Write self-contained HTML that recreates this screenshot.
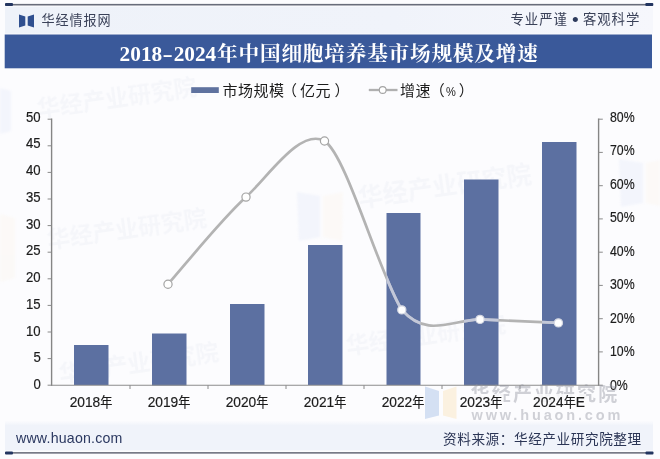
<!DOCTYPE html>
<html lang="zh-CN">
<head>
<meta charset="utf-8">
<title>2018-2024年中国细胞培养基市场规模及增速</title>
<style>
html,body{margin:0;padding:0;}
body{width:660px;height:459px;overflow:hidden;background:#fcfcfe;position:relative;font-family:"Liberation Sans","Noto Sans CJK SC",sans-serif;color:#222;}
.abs{position:absolute;white-space:nowrap;}
#brand{left:41.6px;top:10.9px;font-size:13.1px;line-height:20px;letter-spacing:0.9px;color:#3a4158;}
#slogan{left:510.5px;top:9.8px;font-size:13.4px;line-height:20px;letter-spacing:0.95px;color:#3a4158;}
.bl{display:inline-block;font-size:19px;line-height:0;width:5.7px;text-indent:-0.5px;position:relative;top:2.2px;letter-spacing:0;color:#2d3a5c;}
#title{left:119.6px;top:39.3px;text-align:left;font-family:"Liberation Serif","Noto Serif CJK SC",serif;font-weight:bold;font-size:20.6px;line-height:30px;color:#fff;letter-spacing:0.85px;}
#title .n{font-size:21.3px;letter-spacing:0;margin-right:0.8px;}
#title .hy{display:inline-block;transform:scaleX(1.45);margin:0 2.2px;}
.yl{-webkit-text-stroke:0.2px #1c1c1c;position:absolute;left:0;width:40.7px;text-align:right;font-size:15.2px;line-height:16px;color:#1c1c1c;transform:scaleX(0.865);transform-origin:right center;}
.yr{position:absolute;left:609.5px;margin-top:-0.5px;-webkit-text-stroke:0.2px #1c1c1c;font-size:15.2px;line-height:16px;color:#1c1c1c;transform:scaleX(0.81);transform-origin:left center;white-space:nowrap;}
.xl{-webkit-text-stroke:0.2px #1c1c1c;position:absolute;width:90px;text-align:center;font-size:15.2px;line-height:16px;top:394.3px;color:#1c1c1c;transform:scaleX(0.905);transform-origin:center center;white-space:nowrap;}
.xl .c{font-size:13.4px;}
.xl .bg{display:inline-block;line-height:15px;padding:0 1px;background:rgba(252,252,254,0.82);}
.p1{position:relative;left:-2.5px;}
.p2{position:relative;left:3.5px;}
.lg{font-size:15px;line-height:18px;letter-spacing:0.5px;color:#1c1c1c;top:81.5px;}
#site{left:16px;top:429.2px;font-size:14.5px;line-height:18px;letter-spacing:0.2px;color:#2b3860;transform:scaleX(0.978);transform-origin:left center;}
#src{left:443px;top:430.8px;font-size:13.6px;line-height:18px;letter-spacing:0.6px;color:#2b3555;}
.wm{position:absolute;white-space:nowrap;font-weight:bold;color:rgba(120,140,180,0.05);font-size:23px;transform:rotate(-8deg);filter:blur(0.6px);}
</style>
</head>
<body>
<svg class="abs" style="left:0;top:0;" width="660" height="459" viewBox="0 0 660 459">
  <defs><linearGradient id="hg" x1="0" y1="0" x2="1" y2="0"><stop offset="0" stop-color="#eef2f9"/><stop offset="0.6" stop-color="#f0f3fa"/><stop offset="1" stop-color="#f6f7fc"/></linearGradient><linearGradient id="fg" x1="0" y1="0" x2="0" y2="1"><stop offset="0" stop-color="#f0f3fa" stop-opacity="0"/><stop offset="0.17" stop-color="#f0f3fa" stop-opacity="1"/><stop offset="1" stop-color="#f0f3fa" stop-opacity="1"/></linearGradient></defs>
  <rect x="5" y="6.6" width="648" height="27" fill="url(#hg)"/>
  <rect x="5" y="3.9" width="648" height="1.6" fill="#686c7a"/>
  <rect x="5" y="3.1" width="8" height="2.9" rx="1" fill="#233560"/>
  <rect x="645.3" y="3.1" width="8" height="2.9" rx="1" fill="#233560"/>
  <rect x="4.7" y="34.5" width="647.3" height="33.8" fill="#3a599a"/>
  <rect x="5" y="420.5" width="648" height="30" fill="url(#fg)"/>
  <rect x="5" y="452" width="648" height="1.7" fill="#777a86"/>
  <rect x="5" y="451.5" width="8" height="3" rx="1" fill="#233560"/>
  <rect x="645.5" y="451.5" width="8" height="3" rx="1" fill="#233560"/>
</svg>
<svg class="abs" style="left:19px;top:14px;" width="15" height="14" viewBox="0 0 15 14"><path d="M0 0.5 L6.3 2.6 L6.3 11.4 L0 13.5 Z M15 0.5 L8.7 2.6 L8.7 11.4 L15 13.5 Z" fill="#2f4f8f"/></svg>
<div class="abs" id="brand">华经情报网</div>
<div class="abs" id="slogan">专业严谨 <span class="bl">•</span> 客观科学</div>
<div class="abs" id="title"><span class="n">2018<span class="hy">-</span>2024</span>年中国细胞培养基市场规模及增速</div>

<div class="wm" style="left:36px;top:79px;">华经产业研究院</div>
<div class="wm" style="left:46px;top:210px;">华经产业研究院</div>
<div class="wm" style="left:357px;top:166px;font-size:25px;">华经产业研究院</div>
<div class="wm" style="left:58px;top:344px;">华经产业研究院</div>
<div class="wm" style="left:345px;top:316px;">华经产业研究院</div>

<svg class="abs" style="left:0;top:0;filter:blur(1.2px);" width="660" height="459" viewBox="0 0 660 459">
  <g opacity="0.17">
    <path d="M297 192 L320 196 L320 237 L299 241 Z" fill="#c6d6f0"/>
    <path d="M343 192 L323 196 L323 237 L342 241 Z" fill="#fbeed6"/>
    <path d="M619 159 L643 163 L643 203 L621 207 Z" fill="#c6d6f0"/>
    <path d="M660 160 L646 163 L646 203 L660 206 Z" fill="#fbeed6"/>
    <path d="M0 88 L11 91 L11 131 L0 134 Z" fill="#c6d6f0"/>
    <path d="M0 214 L15 218 L15 278 L0 282 Z" fill="#fbeed6"/>
  </g>
</svg>
<svg class="abs" style="left:0;top:0;" width="660" height="459" viewBox="0 0 660 459">
  <g fill="#5c70a1">
    <rect x="74" y="345" width="34.5" height="40"/>
    <rect x="152" y="333.5" width="34.5" height="52"/>
    <rect x="230" y="304" width="34.5" height="81"/>
    <rect x="308" y="245" width="34.5" height="140"/>
    <rect x="386.5" y="213" width="34" height="172"/>
    <rect x="464" y="179.5" width="34.5" height="206"/>
    <rect x="542" y="142" width="34.5" height="243"/>
  </g>
  <g fill="none">
    <path stroke="#858585" stroke-width="1.4" d="M51.6 118.6 V385.7 M598.6 118.6 V385.7"/>
    <path stroke="#8c8c8c" stroke-width="1.1" d="M51 385.2 H599.2"/>
    <path stroke="#8a8a8a" stroke-width="1" d="M47.6 119.2 H51.6 M47.6 145.8 H51.6 M47.6 172.4 H51.6 M47.6 199.0 H51.6 M47.6 225.6 H51.6 M47.6 252.2 H51.6 M47.6 278.8 H51.6 M47.6 305.4 H51.6 M47.6 332.0 H51.6 M47.6 358.6 H51.6 M47.6 385.2 H51.6 M598.6 119.2 H602.8 M598.6 152.4 H602.8 M598.6 185.7 H602.8 M598.6 218.9 H602.8 M598.6 252.2 H602.8 M598.6 285.4 H602.8 M598.6 318.7 H602.8 M598.6 351.9 H602.8 M598.6 385.2 H602.8 M130 385.2 V389 M208 385.2 V389 M286 385.2 V389 M364 385.2 V389 M442 385.2 V389 M520 385.2 V389"/>
  </g>
  <defs><clipPath id="bc"><rect x="74" y="345" width="34.5" height="40"/><rect x="152" y="333.5" width="34.5" height="52"/><rect x="230" y="304" width="34.5" height="81"/><rect x="308" y="245" width="34.5" height="140"/><rect x="386.5" y="213" width="34" height="172"/><rect x="464" y="179.5" width="34.5" height="206"/><rect x="542" y="142" width="34.5" height="243"/></clipPath></defs>
  <path id="ln" d="M168.0 284.2 C181.0 269.8 219.9 221.0 246.0 197.1 C268.8 176.0 300.3 127.6 324.5 141.0 C346.3 154.6 378.9 273.4 401.8 309.9 C427.1 338.3 450.8 320.2 480.0 319.4 C506.0 320.6 532.0 321.8 558.4 322.9" fill="none" stroke="#b3b3b3" stroke-width="2.7" stroke-linecap="round"/>
  <path d="M168.0 284.2 C181.0 269.8 219.9 221.0 246.0 197.1 C268.8 176.0 300.3 127.6 324.5 141.0 C346.3 154.6 378.9 273.4 401.8 309.9 C427.1 338.3 450.8 320.2 480.0 319.4 C506.0 320.6 532.0 321.8 558.4 322.9" fill="none" stroke="#c3c8d9" stroke-width="2.9" clip-path="url(#bc)"/>
  <g fill="#fff" stroke="#a4a4a4" stroke-width="1.2">
    <circle cx="168" cy="284.2" r="4.1"/>
    <circle cx="246" cy="197.1" r="4.1"/>
    <circle cx="324.5" cy="141" r="4.1"/>
    <circle cx="401.8" cy="309.9" r="4.1" stroke="#d4d7e2"/>
    <circle cx="480" cy="319.4" r="4.1" stroke="#d4d7e2"/>
    <circle cx="558.4" cy="322.9" r="4.1" stroke="#d4d7e2"/>
  </g>
  <rect x="191.2" y="87.2" width="27.6" height="5.8" fill="#5f729f"/>
  <path d="M368.8 90 H397.5" stroke="#b0b0b0" stroke-width="2.3"/>
  <circle cx="382.7" cy="90" r="3.4" fill="#fff" stroke="#a4a4a4" stroke-width="1.1"/>
  <g opacity="0.68">
    <path d="M425 386.5 L439 391 L439 415.5 L425 419 Z" fill="#c2d3ef"/>
    <path d="M456.5 386.5 L443 391 L443 415.5 L456.5 419 Z" fill="#fbecd2"/>
  </g>
</svg>

<div class="abs lg" style="left:222.5px;">市场规模<span class="p1">（</span>亿元<span class="p2">）</span></div>
<div class="abs lg" style="left:400px;">增速<span class="p1" style="left:-1.3px;">（</span><span style="display:inline-block;font-size:13.5px;letter-spacing:0;margin:0 -1.3px 0 -1.9px;transform:scaleX(0.82);">%</span><span class="p2" style="left:3.4px;">）</span></div>

<div class="yl" style="top:108.7px;">50</div>
<div class="yl" style="top:135.4px;">45</div>
<div class="yl" style="top:162.1px;">40</div>
<div class="yl" style="top:188.9px;">35</div>
<div class="yl" style="top:215.6px;">30</div>
<div class="yl" style="top:242.3px;">25</div>
<div class="yl" style="top:269.0px;">20</div>
<div class="yl" style="top:295.7px;">15</div>
<div class="yl" style="top:322.5px;">10</div>
<div class="yl" style="top:349.2px;">5</div>
<div class="yl" style="top:375.9px;">0</div>

<div class="yr" style="top:109.5px;">80%</div>
<div class="yr" style="top:142.9px;">70%</div>
<div class="yr" style="top:176.4px;">60%</div>
<div class="yr" style="top:209.9px;">50%</div>
<div class="yr" style="top:243.3px;">40%</div>
<div class="yr" style="top:276.8px;">30%</div>
<div class="yr" style="top:310.2px;">20%</div>
<div class="yr" style="top:343.7px;">10%</div>
<div class="yr" style="top:377.1px;">0%</div>

<div class="abs" style="left:470.5px;top:382.5px;font-size:19px;line-height:24px;font-weight:bold;color:rgba(145,148,160,0.42);letter-spacing:2.3px;">华经产业研究院</div>
<div class="abs" style="left:471.5px;top:407px;font-size:14.5px;line-height:16px;font-weight:bold;color:rgba(145,148,160,0.42);letter-spacing:2.85px;">www.huaon.com</div>

<div class="xl" style="left:46px;">2018<span class="c">年</span></div>
<div class="xl" style="left:124px;">2019<span class="c">年</span></div>
<div class="xl" style="left:202px;">2020<span class="c">年</span></div>
<div class="xl" style="left:280px;">2021<span class="c">年</span></div>
<div class="xl" style="left:358px;">2022<span class="c">年</span></div>
<div class="xl" style="left:436px;"><span class="bg">2023<span class="c">年</span></span></div>
<div class="xl" style="left:514px;"><span class="bg">2024<span class="c">年</span>E</span></div>

<div class="abs" id="site">www.huaon.com</div>
<div class="abs" id="src">资料来源：华经产业研究院整理</div>
</body>
</html>
